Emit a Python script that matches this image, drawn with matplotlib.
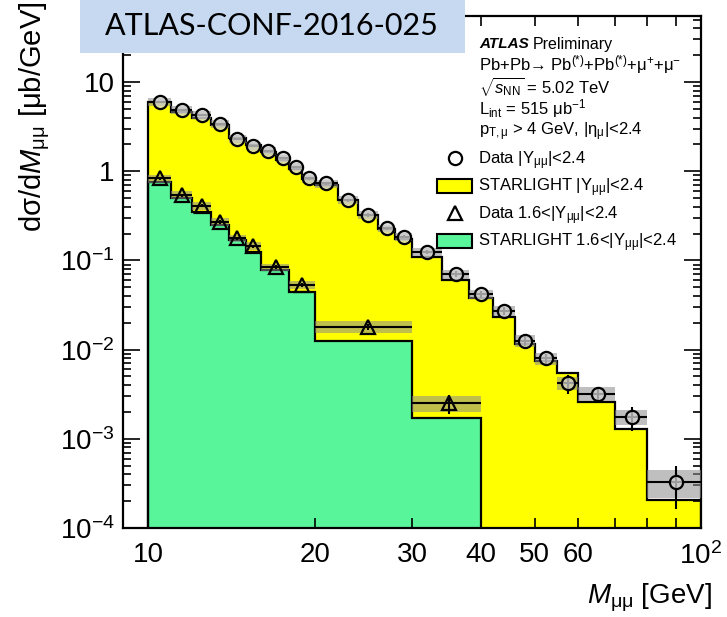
import numpy as np
import matplotlib
matplotlib.use("Agg")
import matplotlib.pyplot as plt
from matplotlib.lines import Line2D
from matplotlib.patches import Patch, Rectangle
from matplotlib.ticker import FixedLocator, FixedFormatter, NullFormatter

plt.rcParams['font.family'] = ['Liberation Sans', 'DejaVu Sans']
plt.rcParams['mathtext.fontset'] = 'custom'
plt.rcParams['mathtext.rm'] = 'Liberation Sans'
plt.rcParams['mathtext.it'] = 'Liberation Sans:italic'
plt.rcParams['mathtext.bf'] = 'Liberation Sans:bold'

# |Y_mumu| < 2.4 : bin edges, data, STARLIGHT
edges_all = [10, 11, 12, 13, 14, 15, 16, 17, 18, 19, 20, 22, 24, 26, 28, 30,
             34, 38, 42, 46, 50, 55, 60, 70, 80, 100]
data_all = [6.0, 4.85, 4.27, 3.38, 2.30, 1.93, 1.70, 1.40, 1.11, 0.83,
            0.73, 0.475, 0.323, 0.229, 0.185, 0.125, 0.0705, 0.0417, 0.0273,
            0.0126, 0.0080, 0.0042, 0.0032, 0.00177, 0.00033]
stat_all = [0.03] * 10 + [0.04] * 5 + [0.05, 0.07, 0.09, 0.10, 0.12, 0.13,
                                       0.25, 0.17, 0.30, 0.50]
sys_all = [0.10] * 16 + [0.12, 0.12, 0.13, 0.15, 0.15, 0.17, 0.18, 0.20, 0.35]
starlight_all = [5.9, 4.6, 4.0, 3.3, 2.35, 1.95, 1.65, 1.35, 1.07, 0.82,
                 0.70, 0.47, 0.32, 0.225, 0.175, 0.11, 0.060, 0.0376, 0.0234,
                 0.0115, 0.0075, 0.0055, 0.0026, 0.00128, 0.000204]

# 1.6 < |Y_mumu| < 2.4
edges_fwd = [10, 11, 12, 13, 14, 15, 16, 18, 20, 30, 40]
data_fwd = [0.83, 0.54, 0.41, 0.27, 0.177, 0.145, 0.0837, 0.053, 0.0181, 0.0025]
stat_fwd = [0.04] * 6 + [0.05, 0.06, 0.08, 0.25]
sys_fwd = [0.10] * 8 + [0.15, 0.20]
starlight_fwd = [0.76, 0.50, 0.35, 0.25, 0.17, 0.125, 0.078, 0.0446, 0.0126, 0.0017]

ylabels = ['10$^{-4}$', '10$^{-3}$', '10$^{-2}$', '10$^{-1}$', '1', '10']
xticks = [10, 20, 30, 40, 50, 60, 100]
xlabels = ['10', '20', '30', '40', '50', '60', '10$^{2}$']

YELLOW = '#ffff00'
GREEN = '#58f59a'
BAND = '#8c8c8c'


def draw_model(ax, edges, model, fill):
    # filled STARLIGHT histogram with a black step outline
    ax.stairs(model, edges, baseline=1e-6, fill=True, color=fill, zorder=1)
    ax.stairs(model, edges, baseline=1e-6, fill=False, color='black',
              lw=1.6, zorder=2)


def draw_data(ax, edges, data, stat, syst, marker, ms, face):
    edges = np.array(edges, dtype=float)
    data, stat, syst = np.array(data), np.array(stat), np.array(syst)
    lo, hi = edges[:-1], edges[1:]
    centers = 0.5 * (lo + hi)
    # systematic band
    ax.bar(lo, 2 * syst * data, width=hi - lo, bottom=data * (1 - syst),
           align='edge', color=BAND, alpha=0.55, lw=0, zorder=3)
    ax.errorbar(centers, data, xerr=[centers - lo, hi - centers],
                yerr=stat * data, fmt='none', ecolor='black', elinewidth=1.5,
                capsize=0, zorder=4)
    ax.plot(centers, data, ls='none', marker=marker, ms=ms, mfc=face,
            mec='black', mew=1.6, zorder=5)


fig = plt.figure(figsize=(7.27, 6.17), dpi=100)
ax = fig.add_axes([123 / 727, 1 - 528 / 617, (701 - 123) / 727, (528 - 16) / 617])
ax.set_xscale('log')
ax.set_yscale('log')

draw_model(ax, edges_all, starlight_all, YELLOW)
draw_model(ax, edges_fwd, starlight_fwd, GREEN)
draw_data(ax, edges_all, data_all, stat_all, sys_all, 'o', 9.5,
          (0.82, 0.82, 0.82, 0.75))
draw_data(ax, edges_fwd, data_fwd, stat_fwd, sys_fwd, '^', 10, 'none')

ax.set_xlim(9, 100)
ax.set_ylim(1e-4, 55)

ax.yaxis.set_major_locator(FixedLocator([1e-4, 1e-3, 1e-2, 1e-1, 1, 10]))
ax.yaxis.set_major_formatter(FixedFormatter(ylabels))
ax.xaxis.set_major_locator(FixedLocator(xticks))
ax.xaxis.set_major_formatter(FixedFormatter(xlabels))
ax.xaxis.set_minor_locator(FixedLocator([70, 80, 90]))
ax.xaxis.set_minor_formatter(NullFormatter())

ax.tick_params(axis='both', which='both', direction='in', top=True,
               right=True, width=1.2, labelsize=20)
ax.tick_params(axis='y', which='major', length=12, pad=6)
ax.tick_params(axis='y', which='minor', length=6)
ax.tick_params(axis='x', which='both', length=7, pad=10)
for sp in ax.spines.values():
    sp.set_linewidth(1.6)

fig.text(35 / 727, 1 - 1 / 617, 'dσ/d$M_{\\mathrm{μμ}}$ [μb/GeV]', rotation=90,
         ha='center', va='top', fontsize=21)
fig.text(712 / 727, 1 - 603 / 617, '$M_{\\mathrm{μμ}}$ [GeV]', ha='right',
         va='baseline', fontsize=20)

# info block
tx = 479 / 727


def fy(py):
    return 1 - py / 617


fig.text(tx, fy(44), 'ATLAS', fontsize=11, fontweight='bold',
         fontstyle='italic', va='center')
fig.text(533 / 727, fy(44), 'Preliminary', fontsize=11.5, va='center')
info = ['Pb+Pb→ Pb$^{(*)}$+Pb$^{(*)}$+μ$^{+}$+μ$^{-}$',
        '$\\sqrt{s_{\\mathrm{NN}}}$ = 5.02 TeV',
        'L$_{\\mathrm{int}}$ = 515 μb$^{-1}$',
        'p$_{\\mathrm{T,μ}}$ > 4 GeV, |η$_{\\mathrm{μ}}$|<2.4']
for py, t in zip([65, 87, 109, 132], info):
    fig.text(tx, fy(py), t, fontsize=12, va='center')

handles = [
    Line2D([], [], ls='none', marker='o', ms=9.5, mfc='none', mec='black', mew=1.6),
    Patch(facecolor=YELLOW, edgecolor='black', lw=1.5),
    Line2D([], [], ls='none', marker='^', ms=10, mfc='none', mec='black', mew=1.6),
    Patch(facecolor=GREEN, edgecolor='black', lw=1.5),
]
labels = ['Data |Y$_{\\mathrm{μμ}}$|<2.4', 'STARLIGHT |Y$_{\\mathrm{μμ}}$|<2.4',
          'Data 1.6<|Y$_{\\mathrm{μμ}}$|<2.4',
          'STARLIGHT 1.6<|Y$_{\\mathrm{μμ}}$|<2.4']
fig.legend(handles, labels, loc='upper left',
           bbox_to_anchor=(437 / 727, fy(149)), frameon=False, fontsize=12,
           borderpad=0, borderaxespad=0, handlelength=2.1, handleheight=0.9,
           handletextpad=0.35, labelspacing=0.3)

# title box
fig.patches.append(Rectangle((80 / 727, fy(53)), 385 / 727, 53 / 617,
                             transform=fig.transFigure, facecolor='#c6d9f1',
                             edgecolor='none', zorder=10))
fig.text(272 / 727, fy(26), 'ATLAS-CONF-2016-025', fontsize=22,
         family='Lato', ha='center', va='center', zorder=11)

fig.savefig('out.png', dpi=100)
